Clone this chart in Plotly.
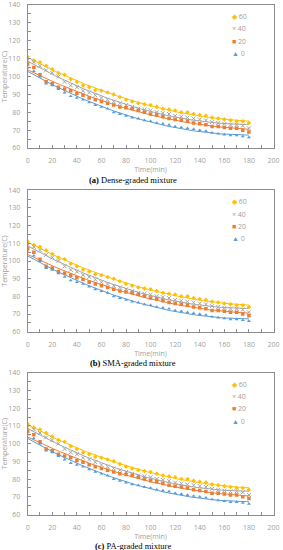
import numpy as np
import plotly.graph_objects as go

time_min = list(range(0, 181, 5))

t60 = [111, 109, 108, 106, 104, 102, 101, 98.5, 97, 95, 94, 92.5, 92, 91, 90, 88.5, 87, 86, 85,
       84.5, 84, 83, 82, 81.5, 81, 80, 80, 79, 78.5, 78, 77, 76.5, 76, 75.5, 75, 75, 74]
t40 = [109, 108, 106, 103.5, 102, 100, 97, 95, 94, 92, 91, 89.5, 88, 87, 86, 85, 84, 83, 82,
       81.5, 81, 80, 79.5, 79, 78, 77.5, 77, 76.5, 76, 75.5, 74.5, 74, 73.5, 73, 73, 72.5, 71]
t20 = [107, 105, 101, 97, 96, 94, 93, 92, 90.5, 89.5, 88, 87, 86, 85, 84, 83, 82.5, 82, 81,
       80, 79, 78.5, 77.5, 76.5, 76, 75.5, 75, 74, 73.5, 73, 72, 72, 71.5, 71, 71, 70, 69]
t0 = [105, 103, 100, 96, 95, 93, 91, 89, 88, 87, 85.5, 84, 83, 82, 80, 79, 78, 77, 76.5,
      75.5, 75, 74, 73.5, 73, 72, 71.5, 71, 70.5, 70, 69.5, 68.5, 68, 67.5, 67, 67, 66.5, 66]

series_names = ["60", "40", "20", "0"]
series_values = [t60, t40, t20, t0]
colors = ["#FFC000", "#A5A5A5", "#ED7D31", "#5B9BD5"]
symbols = ["diamond", "x-thin-open", "square", "triangle-up"]
legend_glyphs = ["\u25c6", "\u00d7", "\u25a0", "\u25b2"]

captions = ["<b>(a)</b> Dense-graded mixture", "<b>(b)</b> SMA-graded mixture", "<b>(c)</b> PA-graded mixture"]
x_ticks = [0, 20, 40, 60, 80, 100, 120, 140, 160, 180, 200]
y_ticks = [60, 70, 80, 90, 100, 110, 120, 130, 140]

H = 550.0
W = 283.0
panels_px = [(5, 148), (190.3, 331.7), (372.7, 514.5)]
caption_px = [179.5, 363, 545.8]
xtitle_standoff = [2, 2, 0]
x_dom = [27.7 / W, 273.5 / W]

sans = "Open Sans, Calibri, Arial"
serif = "Liberation Serif, DejaVu Serif"
tick_font = dict(family=sans, size=7, color="#a0a0a0")
title_font = dict(family=sans, size=7, color="#a0a0a0")

fig = go.Figure()
for p, (top, bot) in enumerate(panels_px):
    sfx = "" if p == 0 else str(p + 1)
    xa = "x" + sfx
    ya = "y" + sfx
    tt = np.array(time_min, dtype=float)
    for name, vals, c in zip(series_names, series_values, colors):
        vv = np.array(vals, dtype=float)
        coef = np.polyfit(tt, vv, 2)
        tf = np.linspace(0, 180, 91)
        fig.add_trace(go.Scatter(x=tf, y=np.polyval(coef, tf), mode="lines",
                                 line=dict(color=c, width=1), showlegend=False,
                                 xaxis=xa, yaxis=ya, hoverinfo="skip"))
    for name, vals, c, s in zip(series_names, series_values, colors, symbols):
        mk = dict(color=c, size=3.5, symbol=s)
        if s.startswith("x"):
            mk = dict(color=c, size=4, symbol=s, line=dict(color=c, width=1))
        fig.add_trace(go.Scatter(x=time_min, y=vals, mode="markers", name=name,
                                 marker=mk, xaxis=xa, yaxis=ya, showlegend=False))
    dom_y = [1 - bot / H, 1 - top / H]
    axis_common = dict(showgrid=False, zeroline=False, showline=True, linecolor="#8c8c8c",
                       linewidth=1, mirror=True, ticks="inside", ticklen=3, tickcolor="#8c8c8c",
                       tickfont=tick_font, automargin=False)
    fig.layout["xaxis" + sfx] = dict(domain=x_dom, range=[0, 200], tickvals=x_ticks,
                                     anchor=ya, ticklabelstandoff=6,
                                     minor=dict(ticks="inside", ticklen=3, dtick=10, tickcolor="#8c8c8c"),
                                     title=dict(text="Time(min)", standoff=xtitle_standoff[p], font=title_font),
                                     **axis_common)
    fig.layout["yaxis" + sfx] = dict(domain=dom_y, range=[60, 140], tickvals=y_ticks,
                                     anchor=xa, ticklabelstandoff=5,
                                     minor=dict(ticks="inside", ticklen=3, dtick=5, tickcolor="#8c8c8c"),
                                     title=dict(text="Temperature(C)", standoff=5, font=title_font),
                                     **axis_common)
    for i, (name, c, g) in enumerate(zip(series_names, colors, legend_glyphs)):
        ypx = top + 11.3 + i * 12.4
        fig.add_annotation(text='<span style="color:%s">%s</span> %s' % (c, g, name),
                           xref="paper", yref="paper", x=230 / W, y=1 - ypx / H,
                           xanchor="left", yanchor="middle", showarrow=False,
                           font=dict(family=sans, size=7, color="#a0a0a0"))
    fig.add_annotation(text=captions[p], xref="paper", yref="paper", x=133 / W,
                       y=1 - caption_px[p] / H, xanchor="center", yanchor="middle", showarrow=False,
                       borderpad=0,
                       font=dict(family=serif, size=8.5, color="#000000"))

fig.update_layout(width=283, height=550, margin=dict(l=0, r=0, t=0, b=0),
                  paper_bgcolor="white", plot_bgcolor="white")
fig.write_html("out.html", config={"displayModeBar": False},
               post_script="document.body.style.margin='0';document.body.style.overflow='hidden';")
